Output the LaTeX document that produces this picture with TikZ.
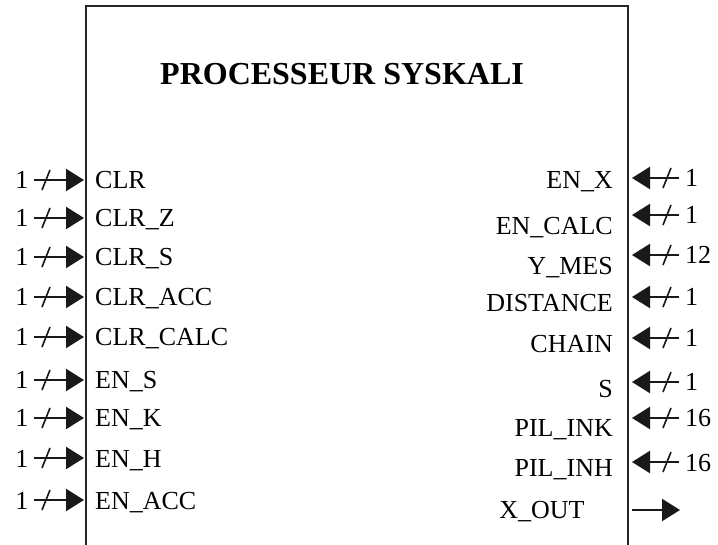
\documentclass[tikz,border=0pt]{standalone}
\usepackage{fontspec}
\setmainfont{Liberation Serif}
\usetikzlibrary{arrows.meta}
\begin{document}
\begin{tikzpicture}[x=1pt,y=-1pt,
  frame/.style={line width=2pt, draw=black!85},
  pin/.style={line width=2.4pt, draw=black!90, -{Triangle[length=18pt,width=22pt]}},
  slash/.style={line width=1.6pt, draw=black!90},
  sig/.style={font=\fontsize{26}{30}\selectfont, inner sep=0pt},
  titlefont/.style={font=\bfseries\fontsize{32}{36}\selectfont, inner sep=0pt}]
\useasboundingbox (0,0) rectangle (718,545);

% processor body, open at the bottom
\coordinate (bl) at (86,545);
\coordinate (tl) at (86,6);
\coordinate (tr) at (628,6);
\coordinate (br) at (628,545);
\draw[frame] (bl) -- (tl) -- (tr) -- (br);

\node[titlefont, anchor=base west] (title) at (160,85) {PROCESSEUR SYSKALI};

% inputs on the left side
\foreach \lab/\y/\n [count=\i] in {CLR/180/1, CLR\_Z/218/1, CLR\_S/257/1,
    CLR\_ACC/297/1, CLR\_CALC/337/1, EN\_S/380/1, EN\_K/418/1, EN\_H/458/1, EN\_ACC/500/1} {
  \coordinate (la\i) at (34,\y);
  \coordinate (lb\i) at (84,\y);
  \draw[pin] (la\i) -- (lb\i);
  \draw[slash] (42,\y+10) -- (50,\y-10);
  \node[sig, anchor=base] (ln\i) at (22,\y+9) {\n};
  \node[sig, anchor=base west] (ll\i) at (95,\y+9) {\lab};
}

% buses entering on the right side
\foreach \lab/\y/\ly/\n [count=\i] in {EN\_X/178/180/1, EN\_CALC/215/226/1, Y\_MES/255/266/12,
    DISTANCE/297/303/1, CHAIN/338/344/1, S/382/389/1, PIL\_INK/418/427/16, PIL\_INH/462/467/16} {
  \coordinate (ra\i) at (679,\y);
  \coordinate (rb\i) at (632,\y);
  \draw[pin] (ra\i) -- (rb\i);
  \draw[slash] (663,\y+10) -- (671,\y-10);
  \node[sig, anchor=base west] (rn\i) at (685,\y+9) {\n};
  \node[sig, anchor=base east] (rl\i) at (613,\ly+9) {\lab};
}

% output
\coordinate (xa) at (632,510);
\coordinate (xb) at (680,510);
\draw[pin] (xa) -- (xb);
\node[sig, anchor=base] (xout) at (542,518) {X\_OUT};
\end{tikzpicture}
\end{document}
